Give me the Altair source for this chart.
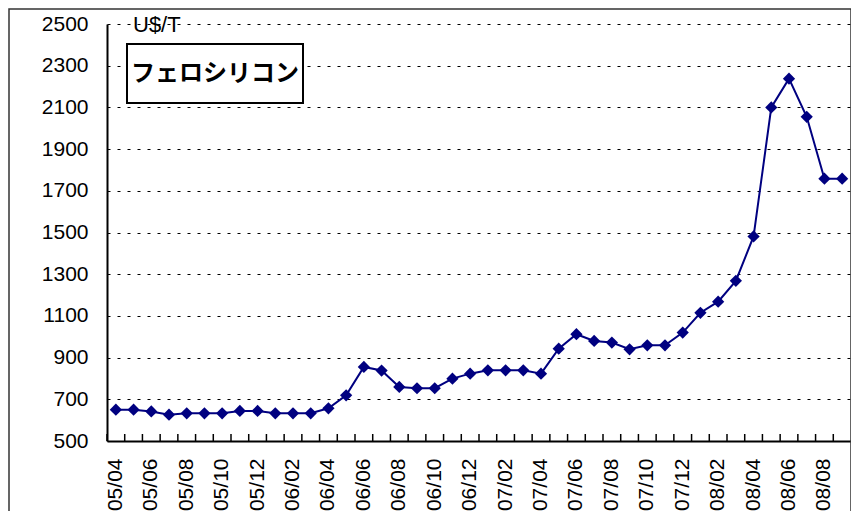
import altair as alt
import pandas as pd

months = [
    "05/04", "05/05", "05/06", "05/07", "05/08", "05/09", "05/10", "05/11", "05/12",
    "06/01", "06/02", "06/03", "06/04", "06/05", "06/06", "06/07", "06/08", "06/09",
    "06/10", "06/11", "06/12",
    "07/01", "07/02", "07/03", "07/04", "07/05", "07/06", "07/07", "07/08", "07/09",
    "07/10", "07/11", "07/12",
    "08/01", "08/02", "08/03", "08/04", "08/05", "08/06", "08/07", "08/08", "08/09",
]
prices = [
    650, 650, 642, 626, 633, 633, 633, 644, 644,
    633, 633, 633, 657, 719, 855, 838, 759, 753,
    753, 799, 823,
    839, 839, 839, 823, 943, 1012, 980, 972, 940,
    959, 959, 1020,
    1115, 1168, 1268, 1481, 2100, 2238, 2055, 1758, 1758,
]
x_labels = months[::2]
y_ticks = [500, 700, 900, 1100, 1300, 1500, 1700, 1900, 2100, 2300, 2500]
unit_label = "U$/T"
title_text = "フェロシリコン"

df = pd.DataFrame({"month": months, "price": prices})
note = pd.DataFrame({"unit": [unit_label], "title": [title_text]})

W, H = 744, 417
LABEL_FONT = "Liberation Sans"

x_scale = alt.Scale(type="band", paddingInner=0, paddingOuter=0)
y_scale = alt.Scale(domain=[500, 2500], nice=False, zero=False)

x_axis = alt.Axis(
    values=x_labels, labelAngle=-90, ticks=False, labelPadding=17,
    domainColor="black", domainWidth=2, labelFont=LABEL_FONT, labelFontSize=21,
    labelColor="black", title=None, grid=False,
)
y_axis = alt.Axis(
    values=y_ticks, format="d", ticks=False, labelPadding=19, grid=True, gridColor="black",
    gridDash=[3, 7], gridWidth=1, gridOpacity=1, domainColor="black", domainWidth=2,
    labelFont=LABEL_FONT, labelFontSize=21, labelColor="black", title=None,
)

base = alt.Chart(df)

line = base.mark_line(color="#000080", strokeWidth=2).encode(
    x=alt.X("month:O", sort=months, scale=x_scale, axis=x_axis, bandPosition=0.5),
    y=alt.Y("price:Q", scale=y_scale, axis=y_axis),
)
points = base.mark_point(shape="diamond", filled=True, color="#000080", size=150, opacity=1).encode(
    x=alt.X("month:O", sort=months, scale=x_scale, axis=x_axis, bandPosition=0.5),
    y=alt.Y("price:Q", scale=y_scale, axis=y_axis),
)
xticks = base.mark_rule(color="black", strokeWidth=1.5).encode(
    x=alt.X("month:O", sort=months, scale=x_scale, axis=x_axis, bandPosition=0),
    y=alt.value(H - 7),
    y2=alt.value(H),
)

border = alt.Chart(note).mark_rect(fillOpacity=0, stroke="#333333", strokeWidth=1.5).encode(
    x=alt.value(-98), x2=alt.value(W), y=alt.value(-15), y2=alt.value(H + 200)
)
title_box = alt.Chart(note).mark_rect(fill="white", stroke="black", strokeWidth=2).encode(
    x=alt.value(20), x2=alt.value(196), y=alt.value(20), y2=alt.value(79)
)
title = alt.Chart(note).mark_text(
    font="Noto Sans CJK JP", fontSize=24, fontWeight="bold", color="black",
    align="center", baseline="middle",
).encode(x=alt.value(108), y=alt.value(50), text="title:N")
unit = alt.Chart(note).mark_text(
    font=LABEL_FONT, fontSize=22, color="black",
    align="left", baseline="alphabetic",
).encode(x=alt.value(26), y=alt.value(8), text="unit:N")

chart = alt.layer(xticks, line, points, title_box, title, unit, border).properties(
    width=W, height=H,
    autosize=alt.AutoSizeParams(type="none"),
    padding={"left": 99, "top": 16, "right": 0, "bottom": 70},
    background="white",
).configure_view(stroke=None)

chart.save("out.html", embed_options={"renderer": "svg", "actions": False})
